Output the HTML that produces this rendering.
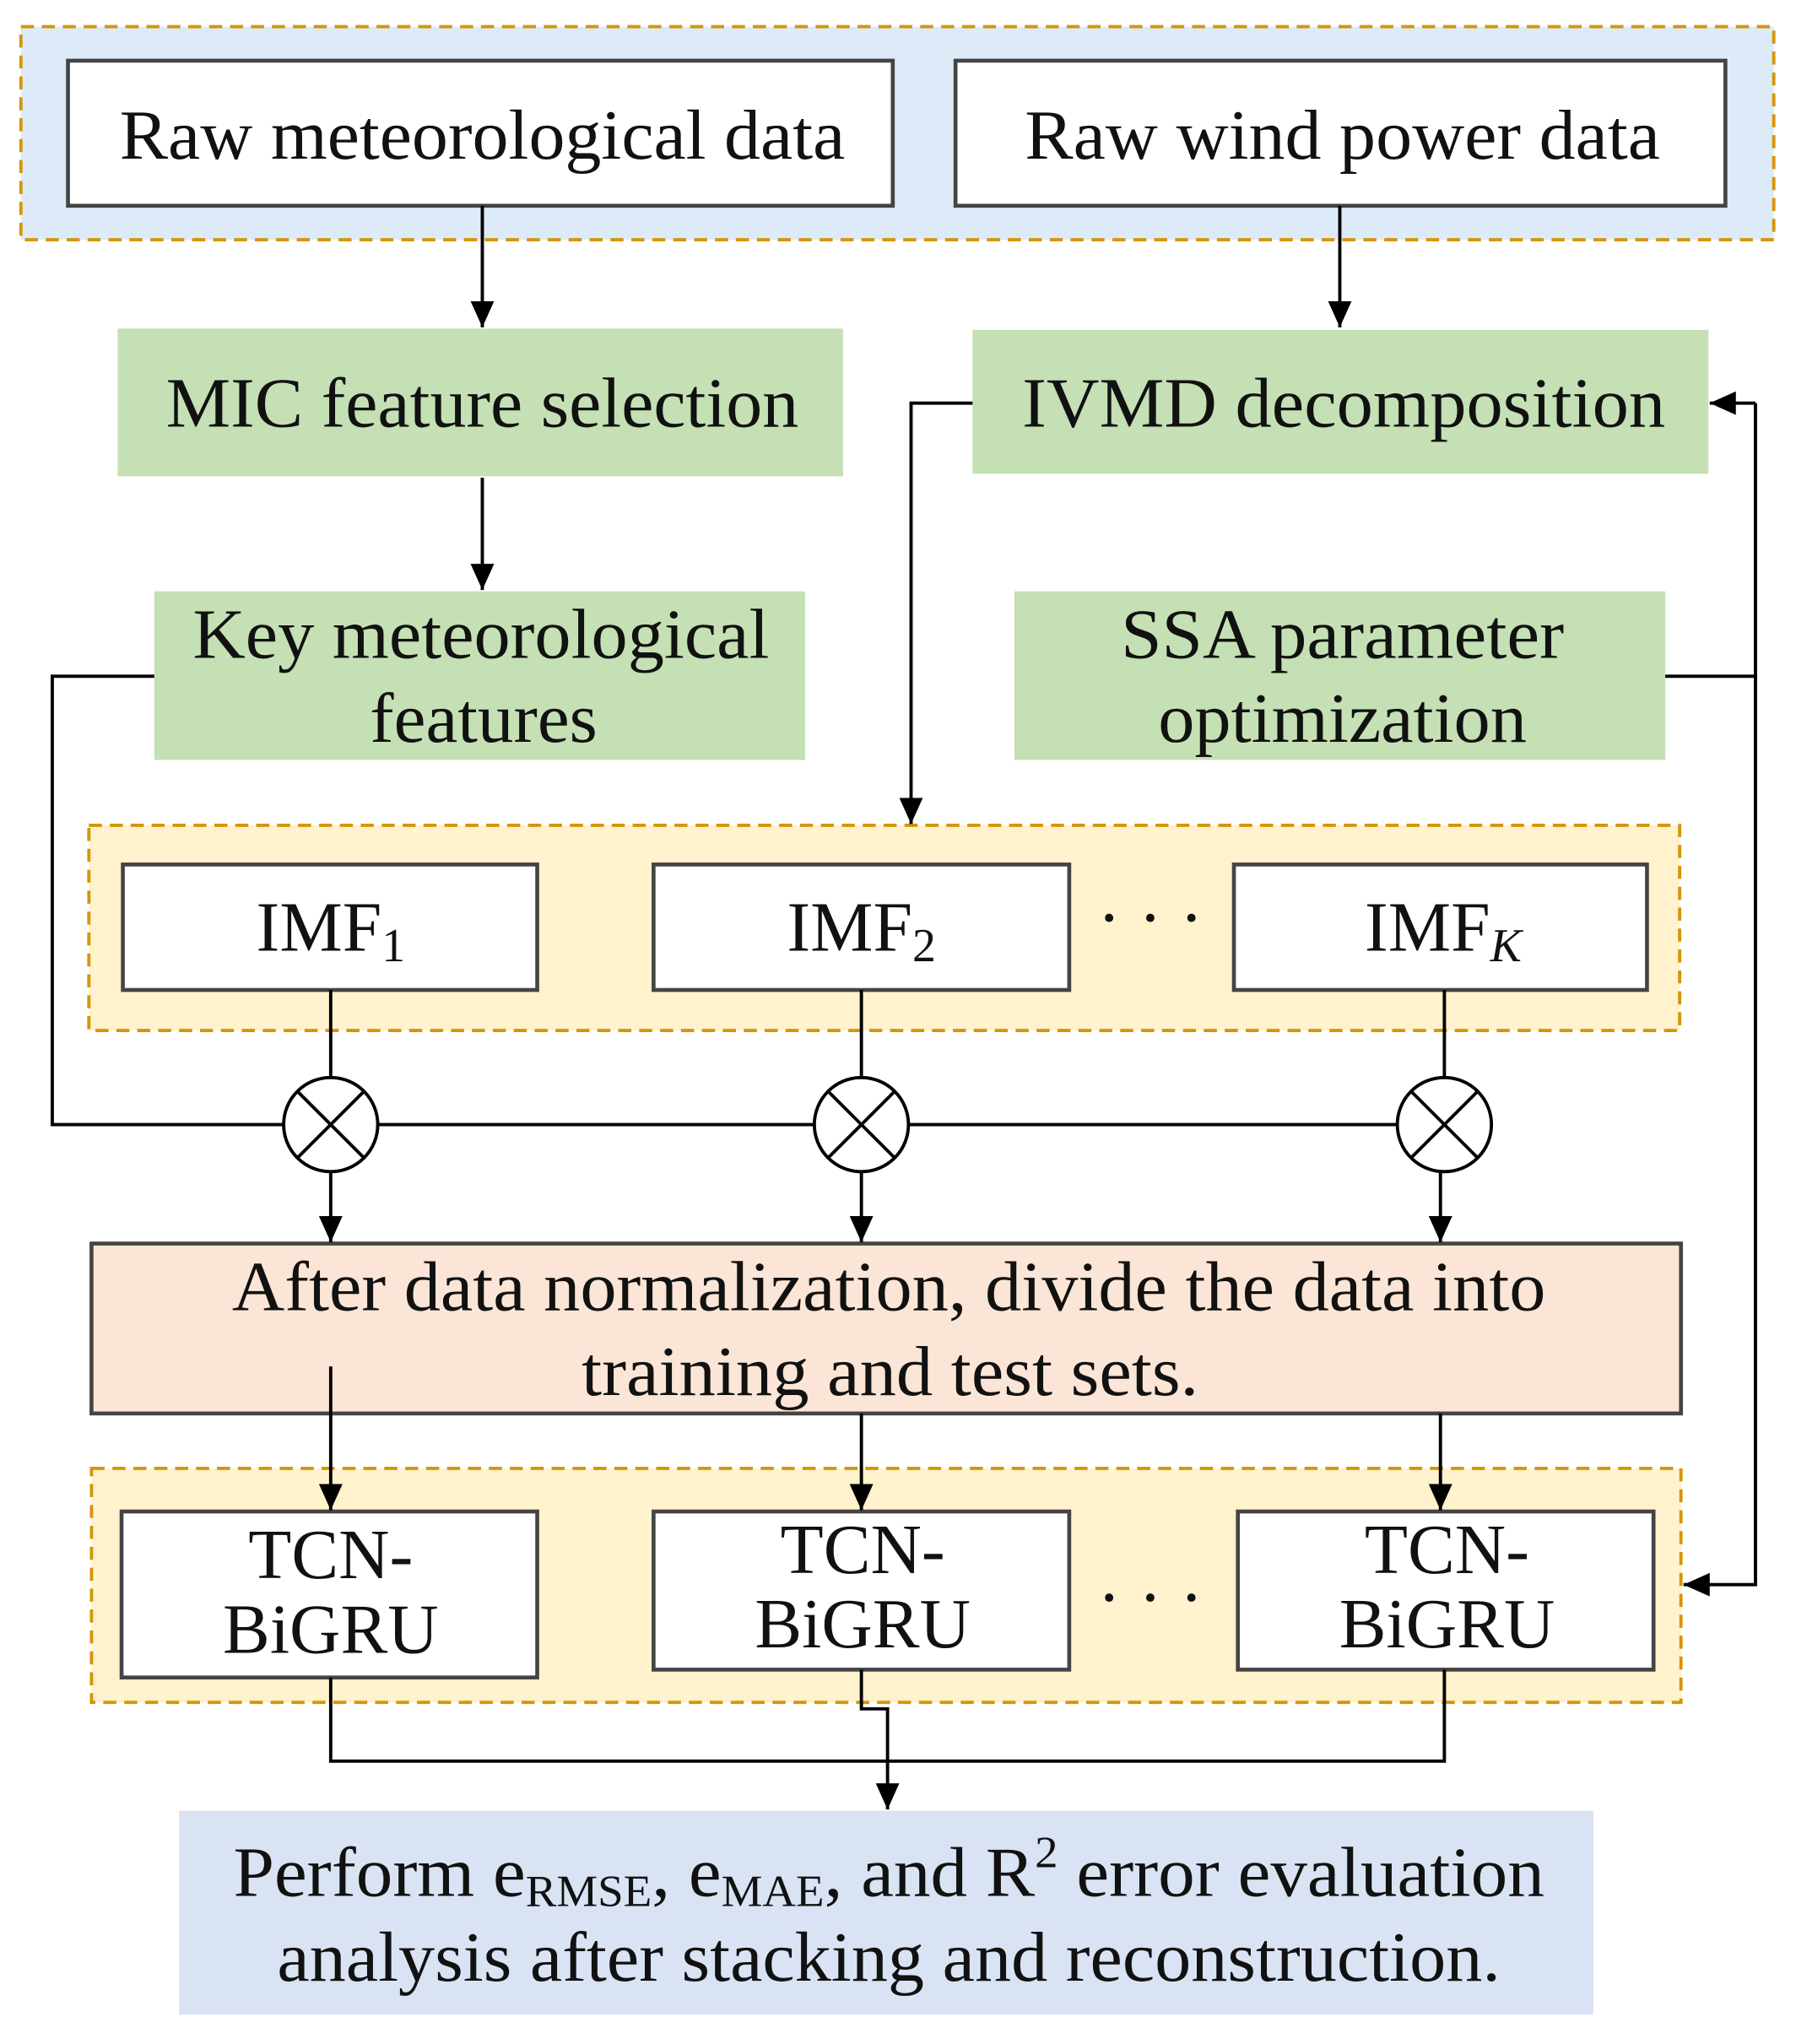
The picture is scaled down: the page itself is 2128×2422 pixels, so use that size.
<!DOCTYPE html>
<html><head><meta charset="utf-8"><style>
html,body{margin:0;padding:0;background:#fff}
svg{display:block}
text{font-family:"Liberation Serif",serif;fill:#111}
</style></head><body>
<svg width="2128" height="2422" viewBox="0 0 1374 1563" xmlns="http://www.w3.org/2000/svg">
<defs>
<marker id="b" markerWidth="22" markerHeight="22" refX="20" refY="11" orient="auto" markerUnits="userSpaceOnUse"><path d="M0,2 L20,11 L0,20 Z" fill="#000"/></marker></defs>
<g stroke-width="2.5">
<rect x="16" y="20" width="1341" height="163" fill="#dcebf7" stroke="#d4960a" stroke-dasharray="10,6"/>
<rect x="68" y="631" width="1217" height="157" fill="#fff2cc" stroke="#d4960a" stroke-dasharray="10,6"/>
<rect x="70" y="1123" width="1216" height="179" fill="#fff2cc" stroke="#d4960a" stroke-dasharray="10,6"/>
</g>
<g stroke="#444" stroke-width="3" fill="#fff">
<rect x="52" y="46" width="631" height="111"/>
<rect x="731" y="46" width="589" height="111"/>
<rect x="94" y="661" width="317" height="96"/>
<rect x="500" y="661" width="318" height="96"/>
<rect x="944" y="661" width="316" height="96"/>
<rect x="70" y="951" width="1216" height="130" fill="#fbe5d6"/>
<rect x="93" y="1156" width="318" height="127"/>
<rect x="500" y="1156" width="318" height="121"/>
<rect x="947" y="1156" width="318" height="121"/>
</g>
<g fill="#c5e0b4">
<rect x="90" y="251" width="555" height="113"/>
<rect x="744" y="252" width="563" height="110"/>
<rect x="118" y="452" width="498" height="129"/>
<rect x="776" y="452" width="498" height="129"/>
</g>
<rect x="137" y="1385" width="1082" height="156" fill="#dae3f3"/>
<g stroke="#000" stroke-width="2.5" fill="none">
<path d="M369,157 V250" marker-end="url(#b)"/>
<path d="M1025,157 V250" marker-end="url(#b)"/>
<path d="M369,365 V451" marker-end="url(#b)"/>
<path d="M744,308 H697 V630" marker-end="url(#b)"/>
<path d="M1274,517 H1343 V1212 H1288" marker-end="url(#b)"/>
<path d="M1343,517 V308"/>
<path d="M1343,308 H1308" marker-end="url(#b)"/>
<path d="M118,517 H40 V860 H1069"/>
<path d="M253,757 V824 M659,757 V824 M1105,757 V824"/>
<path d="M253,896 V950" marker-end="url(#b)"/>
<path d="M659,896 V950" marker-end="url(#b)"/>
<path d="M1102,896 V950" marker-end="url(#b)"/>
<path d="M253,1045 V1155" marker-end="url(#b)"/>
<path d="M659,1081 V1155" marker-end="url(#b)"/>
<path d="M1102,1081 V1155" marker-end="url(#b)"/>
<path d="M253,1283 V1347 H1105 V1277"/>
<path d="M659,1277 V1307 H679 V1384" marker-end="url(#b)"/>
<g fill="#fff">
<circle cx="253" cy="860" r="36"/><circle cx="659" cy="860" r="36"/><circle cx="1105" cy="860" r="36"/>
</g>
<path d="M228,835 L278,885 M278,835 L228,885 M634,835 L684,885 M684,835 L634,885 M1080,835 L1130,885 M1130,835 L1080,885"/>
</g>
<g font-size="54" text-anchor="middle" lengthAdjust="spacingAndGlyphs">
<text x="369" y="121" textLength="555" lengthAdjust="spacingAndGlyphs">Raw meteorological data</text>
<text x="1027" y="121" textLength="486" lengthAdjust="spacingAndGlyphs">Raw wind power data</text>
<text x="369" y="326" textLength="484" lengthAdjust="spacingAndGlyphs">MIC feature selection</text>
<text x="1028" y="326" textLength="492" lengthAdjust="spacingAndGlyphs">IVMD decomposition</text>
<text x="368" y="503" textLength="441" lengthAdjust="spacingAndGlyphs">Key meteorological</text>
<text x="370" y="567" textLength="174" lengthAdjust="spacingAndGlyphs">features</text>
<text x="1027" y="503" textLength="339" lengthAdjust="spacingAndGlyphs">SSA parameter</text>
<text x="1027" y="567" textLength="282" lengthAdjust="spacingAndGlyphs">optimization</text>
<text x="253" y="727">IMF<tspan font-size="36" dy="8">1</tspan></text>
<text x="659" y="727">IMF<tspan font-size="36" dy="8">2</tspan></text>
<text x="1104" y="727">IMF<tspan font-size="36" dy="8" font-style="italic">K</tspan></text>
<text x="880" y="720">· · ·</text>
<text x="880" y="1240">· · ·</text>
<text x="680" y="1002" textLength="1005" lengthAdjust="spacingAndGlyphs">After data normalization, divide the data into</text>
<text x="681" y="1067" textLength="472" lengthAdjust="spacingAndGlyphs">training and test sets.</text>
<text x="253" y="1207">TCN-</text><text x="253" y="1264">BiGRU</text>
<text x="660" y="1203">TCN-</text><text x="660" y="1260">BiGRU</text>
<text x="1107" y="1203">TCN-</text><text x="1107" y="1260">BiGRU</text>
<text x="680" y="1450" textLength="1003" lengthAdjust="spacingAndGlyphs">Perform e<tspan font-size="34" dy="8">RMSE</tspan><tspan dy="-8">, e</tspan><tspan font-size="34" dy="8">MAE</tspan><tspan dy="-8">, and R</tspan><tspan font-size="34" dy="-22">2</tspan><tspan dy="22"> error evaluation</tspan></text>
<text x="680" y="1515" textLength="936" lengthAdjust="spacingAndGlyphs">analysis after stacking and reconstruction.</text>
</g>
</svg>
</body></html>
